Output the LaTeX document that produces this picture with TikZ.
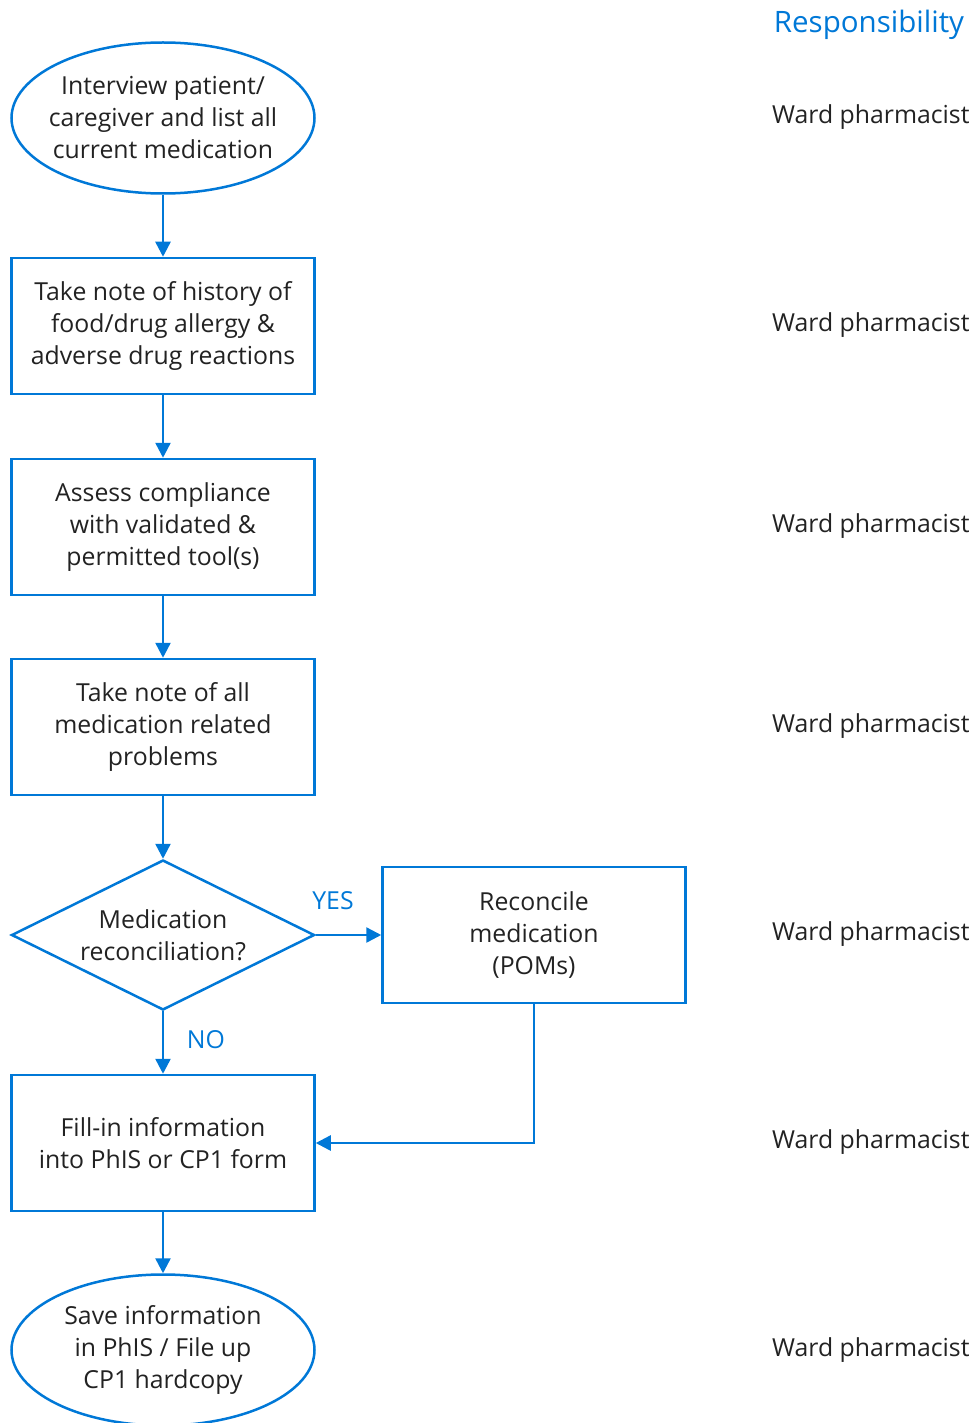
\documentclass[tikz,border=0pt]{standalone}
\usepackage{fontspec}
\setmainfont{Open Sans}
\usetikzlibrary{shapes.geometric, arrows.meta}
\definecolor{flowblue}{RGB}{0,120,215}
\definecolor{inkgray}{RGB}{34,34,34}

\begin{document}
\begin{tikzpicture}[x=1pt, y=-1pt,
    every node/.style={font=\fontsize{24.8}{32}\selectfont, text=inkgray},
    shapeline/.style={draw=flowblue, line width=2.5pt, align=center, inner sep=0pt},
    terminal/.style={shapeline, ellipse, inner xsep=-9pt, minimum width=303pt, minimum height=151pt},
    process/.style={shapeline, rectangle, minimum width=303pt, minimum height=136pt},
    decision/.style={shapeline, diamond, aspect=2.02, minimum width=303pt, minimum height=150pt},
    resp/.style={anchor=west, inner sep=0pt},
    tag/.style={text=flowblue, inner sep=0pt},
    flow/.style={draw=flowblue, line width=2.5pt, -{Triangle[length=15pt,width=15pt]}}]
\useasboundingbox (0,0) rectangle (976,1423);

\node[terminal] (interview) at (163,118)
    {Interview patient/\\caregiver and list all\\current medication};
\node[process] (allergy) at (163,326)
    {Take note of history of\\food/drug allergy \&\\adverse drug reactions};
\node[process] (assess) at (163,527)
    {Assess compliance\\with validated \&\\permitted tool(s)};
\node[process] (problems) at (163,727)
    {Take note of all\\medication related\\problems};
\node[decision] (medrec) at (163,935)
    {Medication\\reconciliation?};
\node[process] (reconcile) at (534,935)
    {Reconcile\\medication\\(POMs)};
\node[process] (fillin) at (163,1143)
    {Fill-in information\\into PhIS or CP1 form};
\node[terminal] (save) at (163,1350)
    {Save information\\in PhIS / File up\\CP1 hardcopy};

\node[tag, font=\fontsize{29.5}{32}\selectfont] (head) at (869,25) {Responsibility};
\node[resp] (r1) at (772,117) {Ward pharmacist};
\node[resp] (r2) at (772,325) {Ward pharmacist};
\node[resp] (r3) at (772,526) {Ward pharmacist};
\node[resp] (r4) at (772,726) {Ward pharmacist};
\node[resp] (r5) at (772,934) {Ward pharmacist};
\node[resp] (r6) at (772,1142) {Ward pharmacist};
\node[resp] (r7) at (772,1350) {Ward pharmacist};

\node[tag] (yes) at (333,901) {YES};
\node[tag] (no) at (206,1040) {NO};

\draw[flow] (interview) -- (allergy);
\draw[flow] (allergy) -- (assess);
\draw[flow] (assess) -- (problems);
\draw[flow] (problems) -- (medrec);
\draw[flow] (medrec) -- (reconcile);
\draw[flow] (medrec) -- (fillin);
\draw[flow] (reconcile.south) |- (fillin.east);
\draw[flow] (fillin) -- (save);
\end{tikzpicture}
\end{document}
